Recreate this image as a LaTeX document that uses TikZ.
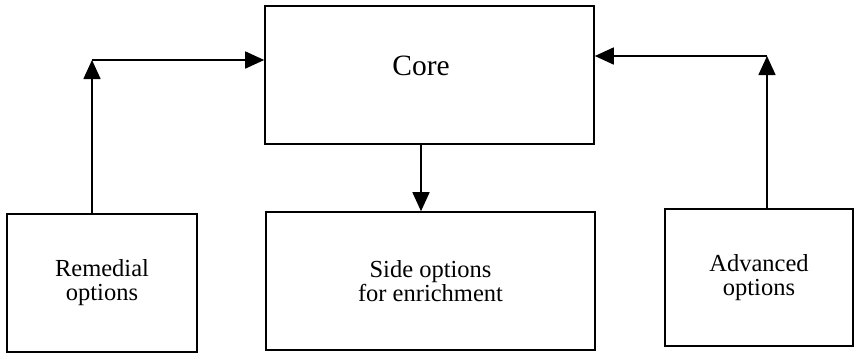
\documentclass[tikz,border=0pt]{standalone}
\usepackage{fontspec}
\setmainfont{Liberation Serif}
\usetikzlibrary{arrows.meta}
\begin{document}
\begin{tikzpicture}[x=1pt,y=-1pt,
  box/.style={draw=black,line width=1.6pt,rectangle,inner sep=0pt,align=center,
    font=\fontsize{24.5}{24}\selectfont},
  arr/.style={draw=black,line width=1.6pt,-{Triangle[length=19pt,width=17pt]}}]
  \useasboundingbox[fill=white] (0,0) rectangle (854,354);

  % boxes
  \node[box,minimum width=329pt,minimum height=138pt] (core) at (429.5,75) {};
  \node[font=\fontsize{29.5}{30}\selectfont] (coretext) at (421,66) {Core};
  \node[box,minimum width=190pt,minimum height=138pt] (rem) at (102,283) {Remedial\\options};
  \node[box,minimum width=329pt,minimum height=138pt] (side) at (430.5,281) {Side options\\for enrichment};
  \node[box,minimum width=188pt,minimum height=137pt] (adv) at (759,277.5) {Advanced\\options};

  % bend points of the connectors
  \coordinate (lc) at (92,60);
  \coordinate (rc) at (767,56);
  \coordinate (dc) at (421,0);

  % connectors
  \draw[arr] (rem.north -| lc) -- (lc);
  \draw[arr] (lc) -- (lc -| core.west);
  \draw[arr] (adv.north -| rc) -- (rc);
  \draw[arr] (rc) -- (rc -| core.east);
  \draw[arr] (core.south -| dc) -- (side.north -| dc);
\end{tikzpicture}
\end{document}
